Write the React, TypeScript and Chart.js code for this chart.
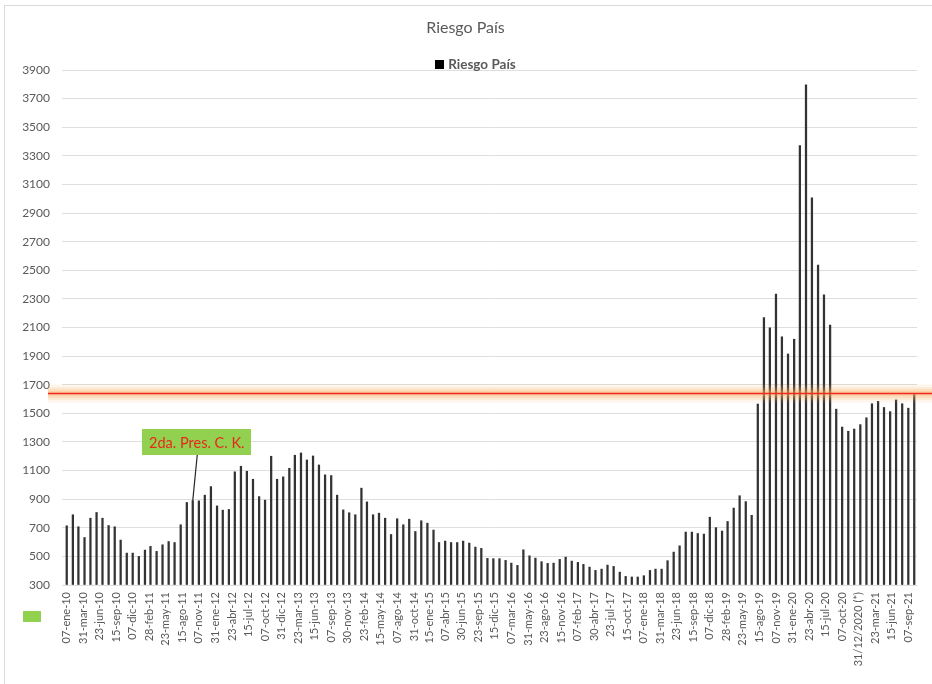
import React, { useEffect, useRef } from 'react';
import { Chart, registerables } from 'chart.js';

Chart.register(...registerables);

// ---------- data ----------
const TITLE = 'Riesgo País';
const SERIES_NAME = 'Riesgo País';
const FIRST_YEAR = 2010;
const BAR_DAY = 7; // each monthly bar sits on the 7th of its month

const V2010 = [714, 791, 707, 632, 767, 807, 767, 716, 707, 614, 523, 523];
const V2011 = [500, 544, 570, 535, 581, 604, 597, 721, 877, 890, 888, 928];
const V2012 = [988, 853, 823, 828, 1091, 1130, 1095, 1039, 918, 893, 1200, 1039];
const V2013 = [1056, 1116, 1207, 1223, 1174, 1202, 1139, 1070, 1065, 928, 825, 805];
const V2014 = [791, 977, 881, 791, 802, 767, 653, 763, 721, 760, 674, 749];
const V2015 = [732, 684, 597, 607, 597, 597, 607, 593, 565, 556, 486, 484];
const V2016 = [484, 472, 453, 437, 546, 504, 488, 463, 451, 453, 479, 495];
const V2017 = [467, 458, 444, 425, 402, 411, 439, 430, 390, 360, 356, 356];
const V2018 = [365, 402, 411, 411, 470, 530, 574, 670, 670, 660, 656, 774];
const V2019 = [701, 677, 744, 838, 924, 883, 787, 1565, 2170, 2098, 2333, 2035];
const V2020 = [1915, 2018, 3372, 3797, 3007, 2537, 2328, 2117, 1529, 1404, 1375, 1390];
const V2021 = [1421, 1469, 1567, 1584, 1541, 1512, 1594, 1567, 1536, 1632];
const YEARLY = [V2010, V2011, V2012, V2013, V2014, V2015, V2016, V2017, V2018, V2019, V2020, V2021];

const TICK_LABELS = [
  '07-ene-10', '31-mar-10', '23-jun-10', '15-sep-10', '07-dic-10', '28-feb-11', '23-may-11',
  '15-ago-11', '07-nov-11', '31-ene-12', '23-abr-12', '15-jul-12', '07-oct-12', '31-dic-12',
  '23-mar-13', '15-jun-13', '07-sep-13', '30-nov-13', '23-feb-14', '15-may-14', '07-ago-14',
  '31-oct-14', '15-ene-15', '07-abr-15', '30-jun-15', '23-sep-15', '15-dic-15', '07-mar-16',
  '31-may-16', '23-ago-16', '15-nov-16', '07-feb-17', '30-abr-17', '23-jul-17', '15-oct-17',
  '07-ene-18', '31-mar-18', '23-jun-18', '15-sep-18', '07-dic-18', '28-feb-19', '23-may-19',
  '15-ago-19', '07-nov-19', '31-ene-20', '23-abr-20', '15-jul-20', '07-oct-20',
  '31/12/2020 (*)', '23-mar-21', '15-jun-21', '07-sep-21',
];
const MESES = ['ene', 'feb', 'mar', 'abr', 'may', 'jun', 'jul', 'ago', 'sep', 'oct', 'nov', 'dic'];

const Y_MIN = 300;
const Y_MAX = 3900;
const Y_STEP = 200;
const THRESHOLD = 1640;

const ANNOT_TEXT = '2da. Pres. C. K.';
const ANNOT_YEAR = 2011;
const ANNOT_MONTH = 9; // octubre
const ANNOT_LABEL_VALUE = 1300;

// ---------- helpers ----------
const DAY0 = Date.UTC(2010, 0, 7);
const dayOf = (y: number, m: number, d: number) => (Date.UTC(y, m, d) - DAY0) / 86400000;
const parseTick = (s: string) => {
  const a = s.match(/^(\d+)-([a-z]{3})-(\d+)/);
  if (a) return dayOf(2000 + Number(a[3]), MESES.indexOf(a[2]), Number(a[1]));
  const b = s.match(/^(\d+)\/(\d+)\/(\d{4})/);
  if (b) return dayOf(Number(b[3]), Number(b[2]) - 1, Number(b[1]));
  return 0;
};
const TICK_DAYS = TICK_LABELS.map(parseTick);
const POINTS = YEARLY.flatMap((arr, yi) =>
  arr.map((v, m) => ({ x: dayOf(FIRST_YEAR + yi, m, BAR_DAY), y: v }))
);

const FONT = 'Lato, "Open Sans", "DejaVu Sans", sans-serif';
const GREY = '#595959';
const PAD_LEFT = 14;
const PAD_RIGHT = 15;

const decorPlugin = {
  id: 'decor',
  beforeDraw(chart: any) {
    const { ctx, width, height } = chart;
    ctx.save();
    ctx.fillStyle = '#ffffff';
    ctx.fillRect(0, 0, width, height);
    ctx.strokeStyle = '#d9d9d9';
    ctx.lineWidth = 1;
    ctx.strokeRect(4.5, 5.5, width + 10, height + 10);
    ctx.fillStyle = '#92d050';
    ctx.fillRect(23, 611, 18, 11);
    ctx.restore();
  },
  afterDatasetsDraw(chart: any) {
    const { ctx, width, chartArea } = chart;
    const xs = chart.scales.x;
    const ys = chart.scales.y;
    // threshold line with glow
    const ty = Math.round(ys.getPixelForValue(THRESHOLD)) + 0.5;
    ctx.save();
    ctx.lineCap = 'butt';
    for (const [w, a] of [[18, 0.12], [13, 0.15], [9, 0.2], [5, 0.26]] as [number, number][]) {
      ctx.beginPath();
      ctx.moveTo(48, ty);
      ctx.lineTo(width, ty);
      ctx.strokeStyle = `rgba(250,175,100,${a})`;
      ctx.lineWidth = w;
      ctx.stroke();
    }
    ctx.beginPath();
    ctx.moveTo(48, ty);
    ctx.lineTo(width, ty);
    ctx.strokeStyle = '#ee2a1c';
    ctx.lineWidth = 1.6;
    ctx.stroke();
    ctx.restore();

    // annotation
    const idx = (ANNOT_YEAR - FIRST_YEAR) * 12 + ANNOT_MONTH;
    const p = POINTS[idx];
    const bx = xs.getPixelForValue(p.x);
    const by = ys.getPixelForValue(p.y);
    const cy = ys.getPixelForValue(ANNOT_LABEL_VALUE);
    const cx = bx + 4;
    const bw = 109;
    const bh = 26;
    ctx.save();
    ctx.beginPath();
    ctx.moveTo(cx + 0.5, cy + bh / 2);
    ctx.lineTo(bx, by);
    ctx.strokeStyle = '#262626';
    ctx.lineWidth = 1.2;
    ctx.stroke();
    ctx.fillStyle = '#92d050';
    ctx.fillRect(Math.round(cx - bw / 2), Math.round(cy - bh / 2), bw, bh);
    ctx.fillStyle = '#e8281c';
    ctx.font = `14.5px ${FONT}`;
    ctx.textAlign = 'center';
    ctx.textBaseline = 'middle';
    ctx.fillText(ANNOT_TEXT, cx, cy + 1);
    ctx.restore();

    // legend
    ctx.save();
    ctx.font = `bold 13.5px ${FONT}`;
    const tw = ctx.measureText(SERIES_NAME).width;
    const total = 9 + 4 + tw;
    const center = (chartArea.left + chartArea.right) / 2 - 14;
    const lx = center - total / 2;
    const ly = chartArea.top - 6;
    ctx.fillStyle = '#000000';
    ctx.fillRect(Math.round(lx), Math.round(ly - 4.5), 9, 9);
    ctx.fillStyle = GREY;
    ctx.textAlign = 'left';
    ctx.textBaseline = 'middle';
    ctx.fillText(SERIES_NAME, lx + 13, ly + 0.5);
    ctx.restore();
  },
};

export default function App() {
  const ref = useRef<HTMLCanvasElement>(null);
  useEffect(() => {
    if (!ref.current) return;
    const chart = new Chart(ref.current, {
      type: 'bar',
      data: {
        datasets: [
          {
            label: SERIES_NAME,
            data: POINTS as any,
            backgroundColor: '#333333',
            borderWidth: 0,
            barThickness: 1.6,
            base: Y_MIN,
          } as any,
        ],
      },
      options: {
        animation: false,
        responsive: false,
        devicePixelRatio: 1,
        layout: { padding: { left: PAD_LEFT, right: PAD_RIGHT, top: 0, bottom: 0 } },
        plugins: {
          legend: { display: false },
          tooltip: { enabled: false },
          title: {
            display: true,
            text: TITLE,
            color: GREY,
            font: { family: FONT, size: 16, weight: 'normal' },
            padding: { top: 18.4, bottom: 32.4 },
          },
        },
        scales: {
          x: {
            type: 'linear',
            offset: false,
            min: -24,
            max: 4305,
            afterBuildTicks: (s: any) => {
              s.ticks = TICK_DAYS.map((v) => ({ value: v }));
            },
            afterFit: (s: any) => {
              s.height = 99;
            },
            ticks: {
              autoSkip: false,
              maxRotation: 90,
              minRotation: 90,
              padding: 7,
              color: GREY,
              font: { family: FONT, size: 11 },
              callback: (_v: any, i: number) => TICK_LABELS[i],
            },
            grid: { display: false, drawTicks: false, offset: false },
            border: { display: false },
          },
          y: {
            min: Y_MIN,
            max: Y_MAX,
            afterFit: (s: any) => {
              s.width = 48;
            },
            ticks: {
              stepSize: Y_STEP,
              padding: 12,
              color: GREY,
              font: { family: FONT, size: 12 },
              callback: (v: any) => String(v),
            },
            grid: { color: '#dedede', drawTicks: false },
            border: { display: false },
          },
        },
      } as any,
      plugins: [decorPlugin],
    });
    return () => chart.destroy();
  }, []);
  return (
    <div style={{ position: 'absolute', left: 0, top: 0, width: 932, height: 684, background: '#fff' }}>
      <canvas ref={ref} width={932} height={684} />
    </div>
  );
}
